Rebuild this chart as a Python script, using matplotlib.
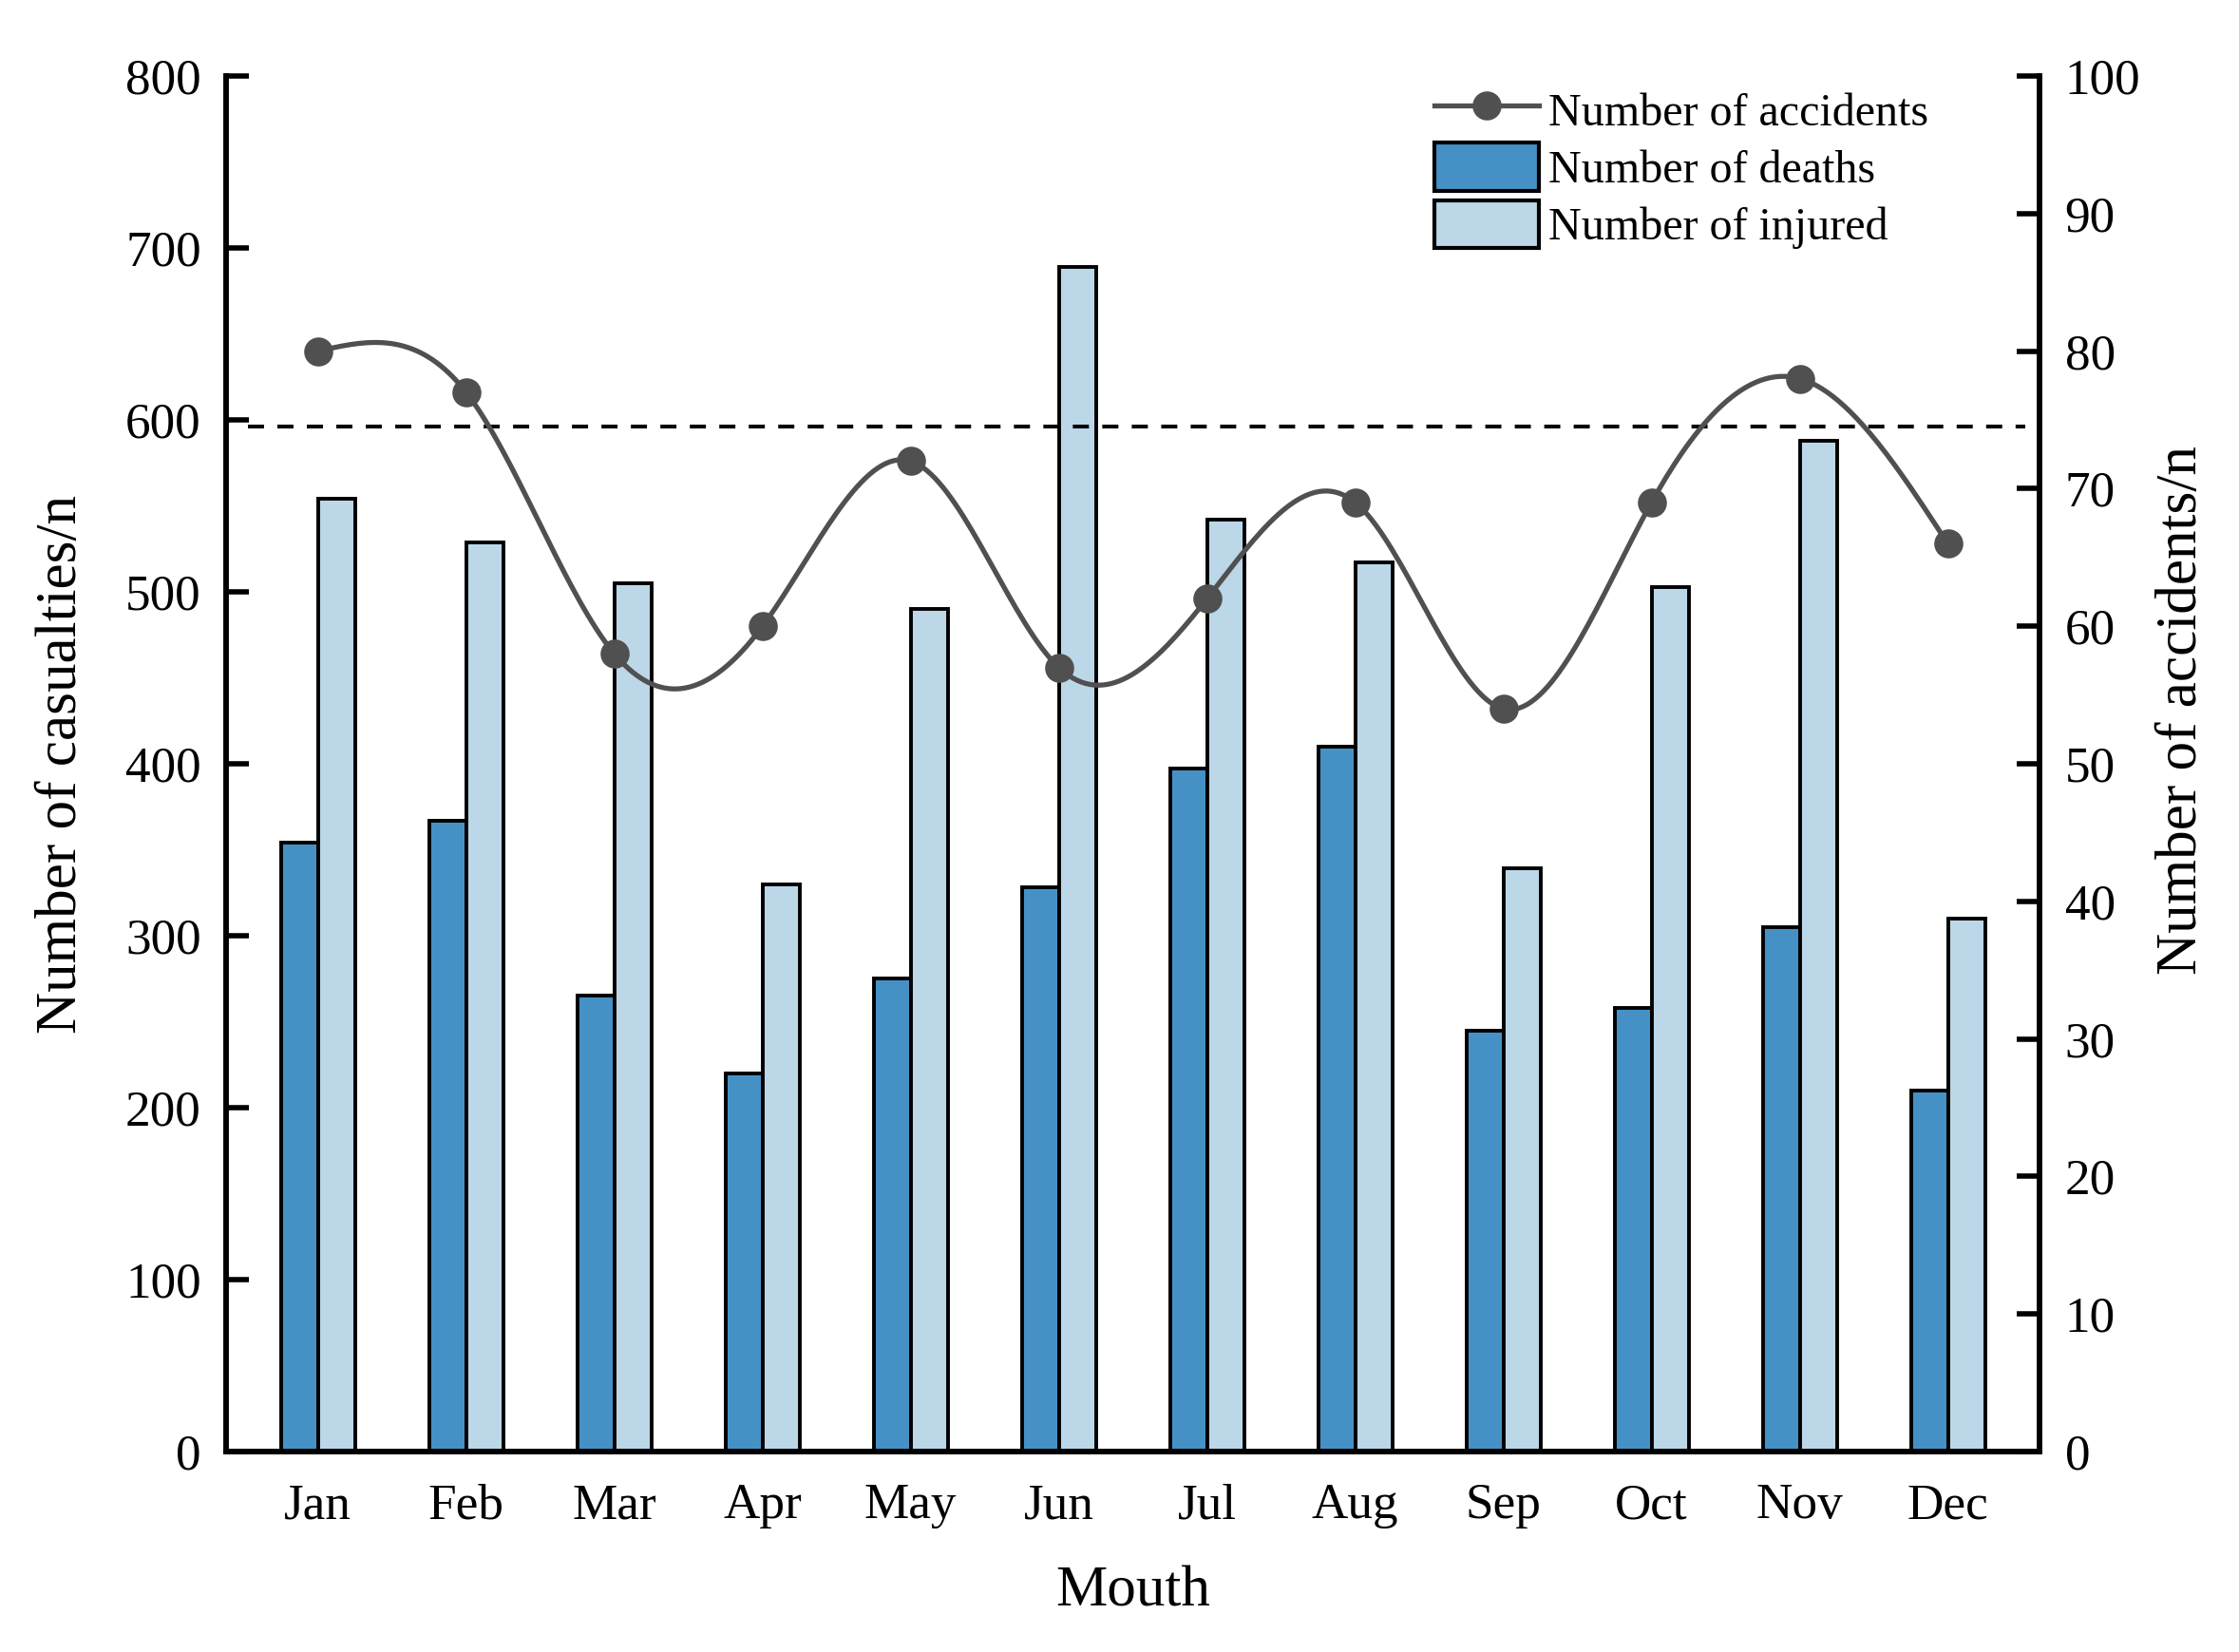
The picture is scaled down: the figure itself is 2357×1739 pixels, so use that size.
import numpy as np
import matplotlib
matplotlib.use("Agg")
import matplotlib.pyplot as plt

months = ["Jan", "Feb", "Mar", "Apr", "May", "Jun", "Jul", "Aug", "Sep", "Oct", "Nov", "Dec"]
deaths = [354, 367, 265, 220, 275, 328, 397, 410, 245, 258, 305, 210]
injured = [554, 529, 505, 330, 490, 689, 542, 517, 339, 503, 588, 310]
accidents = [80, 77, 58, 60, 72, 57, 62, 69, 54, 69, 78, 66]
ref_level = 596  # dashed reference line (left axis units)

plt.rcParams['font.family'] = ['Liberation Serif', 'DejaVu Serif']
plt.rcParams['mathtext.fontset'] = 'stix'


def natural_spline(x, y, n=400):
    x = np.asarray(x, float)
    y = np.asarray(y, float)
    m = len(x)
    h = np.diff(x)
    A = np.zeros((m, m))
    b = np.zeros(m)
    A[0, 0] = 1
    A[-1, -1] = 1
    for i in range(1, m - 1):
        A[i, i - 1] = h[i - 1]
        A[i, i] = 2 * (h[i - 1] + h[i])
        A[i, i + 1] = h[i]
        b[i] = 3 * ((y[i + 1] - y[i]) / h[i] - (y[i] - y[i - 1]) / h[i - 1])
    c = np.linalg.solve(A, b)
    xs = np.linspace(x[0], x[-1], n)
    ys = np.empty_like(xs)
    for k, xv in enumerate(xs):
        i = min(np.searchsorted(x, xv, side='right') - 1, m - 2)
        dx = xv - x[i]
        bi = (y[i + 1] - y[i]) / h[i] - h[i] * (2 * c[i] + c[i + 1]) / 3
        di = (c[i + 1] - c[i]) / (3 * h[i])
        ys[k] = y[i] + bi * dx + c[i] * dx ** 2 + di * dx ** 3
    return xs, ys


fig = plt.figure(figsize=(2357 / 200, 1739 / 200), dpi=200)
ax = fig.add_axes([0.101, 0.1213, 0.81, 0.8327])
ax2 = ax.twinx()

x = np.arange(len(months))
w = 0.25
edge_lw = 1.4
b1 = ax.bar(x - w / 2, deaths, width=w, color='#4591C6', edgecolor='black', linewidth=edge_lw,
            label='Number of deaths', zorder=2)
b2 = ax.bar(x + w / 2, injured, width=w, color='#BBD7E8', edgecolor='black', linewidth=edge_lw,
            label='Number of injured', zorder=2)

ax.set_xlim(-0.62, 11.62)
ax.set_ylim(0, 800)
ax.set_yticks(np.arange(0, 801, 100))
ax.set_xticks(x)
ax.set_xticklabels(months)

ax.plot([-0.47, 11.52], [ref_level, ref_level], color='black', lw=1.45, ls=(0, (4.2, 3.5)), zorder=3)

line_color = '#505050'
ax2.set_ylim(0, 100)
ax2.set_yticks(np.arange(0, 101, 10))
xs, ys = natural_spline(x, accidents)
ax2.plot(xs, ys, color=line_color, lw=1.9, zorder=4)
ax2.plot(x, accidents, 'o', color=line_color, ms=10, zorder=5)
line_handle, = ax2.plot([], [], '-o', color=line_color, lw=1.9, ms=10, label='Number of accidents')

for a in (ax, ax2):
    for s in a.spines.values():
        s.set_linewidth(2.0)
    a.tick_params(direction='in', length=8.5, width=2.0, labelsize=19.2, pad=9.5)
ax.tick_params(axis='x', pad=12)
ax2.spines['top'].set_visible(False)
ax.spines['top'].set_visible(False)

ax.set_xlabel('Mouth', fontsize=22, labelpad=14)
ax.set_ylabel('Number of casualties/n', fontsize=22, labelpad=14)
ax2.set_ylabel('Number of accidents/n', fontsize=22, labelpad=7)
ax2.yaxis.set_label_coords(1.064, 0.539)

leg = ax2.legend(handles=[line_handle, b1, b2], loc='upper left', bbox_to_anchor=(0.6305, 0.962),
                 bbox_transform=fig.transFigure, frameon=False, fontsize=17.3, borderpad=0,
                 handlelength=2.28, handleheight=1.25, handletextpad=0.22, labelspacing=0.18)
for p in leg.get_patches():
    p.set_linewidth(1.5)

fig.savefig('out.png', dpi=200)
